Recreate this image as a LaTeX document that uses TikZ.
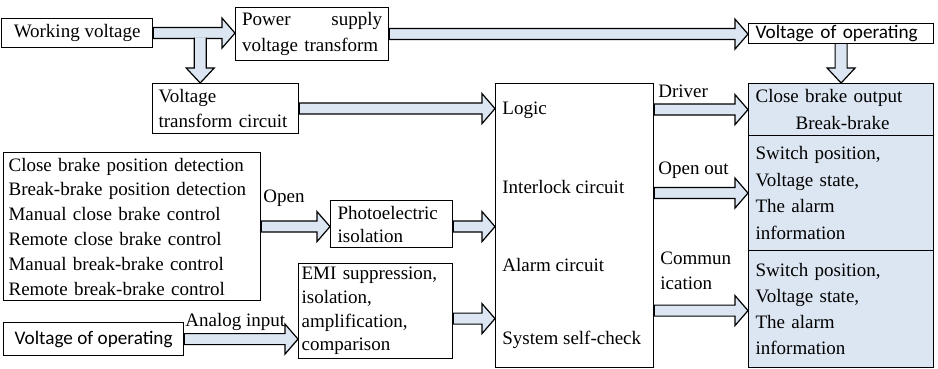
\documentclass[tikz,border=0pt]{standalone}
\usepackage{fontspec}
\setmainfont{Liberation Serif}
\newfontfamily\calibrifont{Carlito}
\usetikzlibrary{calc}

\definecolor{paleblue}{RGB}{220,230,242}

% hollow block arrows: horizontal (to the x of #2) and downward (to the y of #2)
\newcommand{\harrow}[2]{%
  \path[blockarrow] let \p1=#1, \p2=#2 in
    (\x1,\y1+2.75pt) -- (\x2-6.5pt,\y1+2.75pt) -- (\x2-6.5pt,\y1+7.5pt) -- (\x2,\y1)
    -- (\x2-6.5pt,\y1-7.5pt) -- (\x2-6.5pt,\y1-2.75pt) -- (\x1,\y1-2.75pt) -- cycle;}
\newcommand{\varrow}[2]{%
  \path[blockarrow] let \p1=#1, \p2=#2 in
    (\x1-3pt,\y1) -- (\x1-3pt,\y2+7.5pt) -- (\x1-7pt,\y2+7.5pt) -- (\x1,\y2)
    -- (\x1+7pt,\y2+7.5pt) -- (\x1+3pt,\y2+7.5pt) -- (\x1+3pt,\y1);}

\begin{document}
\begin{tikzpicture}[x=0.5pt,y=-0.5pt,
  box/.style={draw,line width=0.6pt,inner sep=0pt,anchor=north west,
    font=\fontsize{9.5}{12.4}\selectfont,
    execute at begin node={\hyphenpenalty=10000 \exhyphenpenalty=10000 }},
  outbox/.style={box,fill=paleblue,minimum width=92.5pt,text width=85.5pt,align=left},
  tag/.style={inner sep=0pt,anchor=west,font=\fontsize{9.5}{12.4}\selectfont},
  blockarrow/.style={draw,line width=0.6pt,fill=paleblue,line join=miter}]
\useasboundingbox (0,0) rectangle (938,369);

% input side
\node[box,minimum width=75.5pt,minimum height=14.5pt,align=center] (wv) at (1,18) {Working voltage};
\node[box,minimum width=76.5pt,minimum height=26.5pt,text width=70pt,align=left,
  font=\fontsize{9.5}{13}\selectfont] (ps) at (235,7) {Power\hfill supply\\voltage transform};
\node[box,minimum width=73pt,minimum height=25pt,text width=67pt,align=left,
  font=\fontsize{9.5}{12.5}\selectfont] (vtc) at (152,83) {Voltage\\transform circuit};
\node[box,minimum width=128.5pt,minimum height=74pt,text width=123.5pt,align=left] (det) at (3,152)
  {Close brake position detection\\Break-brake position detection\\Manual close brake control\\
   Remote close brake control\\Manual break-brake control\\Remote break-brake control};
\node[box,minimum width=61pt,minimum height=23.5pt,text width=54pt,align=left,
  font=\fontsize{9.5}{11.5}\selectfont] (pe) at (330,200) {Photoelectric\\isolation};
\node[box,minimum width=77pt,minimum height=47.5pt,text width=74pt,align=left,
  font=\fontsize{9.5}{11.8}\selectfont] (emi) at (298,263)
  {EMI suppression,\\isolation,\\amplification,\\comparison};
\node[box,minimum width=90pt,minimum height=16.5pt,align=center,
  font=\calibrifont\fontsize{9.6}{12}\selectfont] (vop2) at (3,322) {Voltage of operating};

% logic block
\node[box,minimum width=79pt,minimum height=142pt] (logic) at (495,83) {};
\node[tag] (tlogic) at (502,110) {Logic};
\node[tag] (tinter) at (502,187) {Interlock circuit};
\node[tag] (talarm) at (502,265) {Alarm circuit};
\node[tag] (tcheck) at (502,340) {System self-check};

% output side
\node[box,minimum width=92.5pt,minimum height=10pt,text width=85.5pt,align=left,
  font=\calibrifont\fontsize{9.6}{12}\selectfont] (vop) at (748,23) {Voltage of operating};
\node[outbox,minimum height=26pt,font=\fontsize{9.5}{13.5}\selectfont] (cbo) at (748,83)
  {Close brake output\\\hspace*{20pt}Break-brake};
\node[outbox,minimum height=57.5pt,font=\fontsize{9.5}{13.25}\selectfont] (sw1) at (748,135)
  {Switch position,\\Voltage state,\\The alarm\\information};
\node[outbox,minimum height=58.5pt,font=\fontsize{9.5}{13}\selectfont] (sw2) at (748,250)
  {Switch position,\\Voltage state,\\The alarm\\information};

% arrow labels
\node[tag] (ldriver) at (658,91) {Driver};
\node[tag] (lopenout) at (658,170) {Open out};
\node[tag,align=left,font=\fontsize{9.5}{12.5}\selectfont] (lcomm) at (660,270.5) {Commun\\ication};
\node[tag] (lopen) at (263,198) {Open};
\node[tag] (lanalog) at (185,322) {Analog input};

% block arrows
\harrow{(wv.east)}{(ps.west)}
\coordinate (wvsplit) at ($(wv.east)+(47,4.5)$);
\varrow{(wvsplit)}{(vtc.north)}
\harrow{(ps.east)}{(vop.west)}
\varrow{(vop.south)}{(cbo.north)}
\harrow{(vtc.east)}{(logic.west)}
\harrow{(det.east)}{(pe.west)}
\harrow{(pe.east |- det.east)}{(logic.west)}
\harrow{($(emi.east)+(0,7.5)$)}{(logic.west)}
\harrow{(vop2.east)}{(emi.west)}
\harrow{(logic.east |- cbo.west)}{(cbo.west)}
\harrow{(logic.east |- sw1.west)}{(sw1.west)}
\harrow{($(logic.east |- sw2.west)+(0,1.5)$)}{(sw2.west)}
\end{tikzpicture}
\end{document}
